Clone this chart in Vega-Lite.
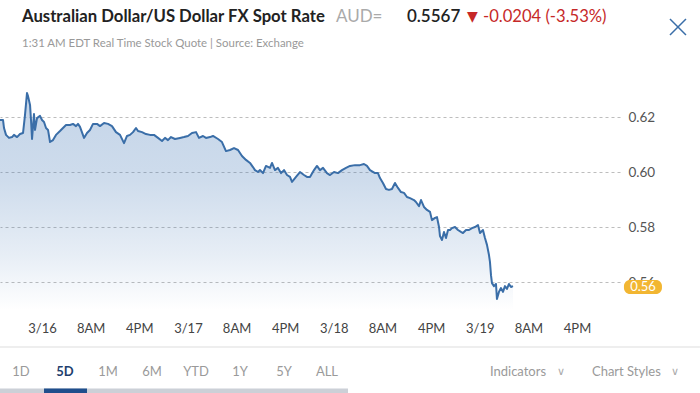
{
  "$schema": "https://vega.github.io/schema/vega-lite/v6.json",
  "autosize": "none",
  "width": 620,
  "height": 250,
  "padding": {"left": 0, "top": 60, "right": 80, "bottom": 83},
  "background": "#ffffff",
  "config": {"view": {"stroke": null}, "font": "Lato"},
  "datasets": {
    "rate": [
      {"h": -6.91, "v": 0.6189}, {"h": -6.41, "v": 0.6189}, {"h": -6.25, "v": 0.6160}, {"h": -5.92, "v": 0.6135}, {"h": -5.43, "v": 0.6124}, {"h": -4.93, "v": 0.6127}, {"h": -4.61, "v": 0.6135}, {"h": -4.11, "v": 0.6127}, {"h": -3.62, "v": 0.6138}, {"h": -3.12, "v": 0.6142}, {"h": -2.80, "v": 0.6207}, {"h": -2.47, "v": 0.6287}, {"h": -2.30, "v": 0.6276}, {"h": -1.97, "v": 0.6244}, {"h": -1.81, "v": 0.6189}, {"h": -1.64, "v": 0.6120}, {"h": -1.32, "v": 0.6211}, {"h": -1.15, "v": 0.6153}, {"h": -0.82, "v": 0.6196}, {"h": -0.33, "v": 0.6204}, {"h": 0, "v": 0.6189}, {"h": 0.33, "v": 0.6182}, {"h": 0.66, "v": 0.6160}, {"h": 0.99, "v": 0.6153}, {"h": 1.32, "v": 0.6109}, {"h": 1.81, "v": 0.6116}, {"h": 2.30, "v": 0.6135}, {"h": 2.96, "v": 0.6149}, {"h": 3.45, "v": 0.6160}, {"h": 3.95, "v": 0.6171}, {"h": 4.61, "v": 0.6171}, {"h": 5.10, "v": 0.6175}, {"h": 5.59, "v": 0.6167}, {"h": 5.92, "v": 0.6175}, {"h": 6.25, "v": 0.6164}, {"h": 6.91, "v": 0.6124}, {"h": 7.40, "v": 0.6142}, {"h": 7.89, "v": 0.6153}, {"h": 8.39, "v": 0.6175}, {"h": 9.05, "v": 0.6175}, {"h": 9.54, "v": 0.6167}, {"h": 10.20, "v": 0.6178}, {"h": 10.86, "v": 0.6175}, {"h": 11.51, "v": 0.6167}, {"h": 12.17, "v": 0.6145}, {"h": 12.83, "v": 0.6135}, {"h": 13.49, "v": 0.6105}, {"h": 13.98, "v": 0.6131}, {"h": 14.47, "v": 0.6135}, {"h": 14.97, "v": 0.6145}, {"h": 15.46, "v": 0.6160}, {"h": 15.79, "v": 0.6149}, {"h": 16.45, "v": 0.6145}, {"h": 17.10, "v": 0.6138}, {"h": 17.76, "v": 0.6135}, {"h": 18.42, "v": 0.6135}, {"h": 19.08, "v": 0.6124}, {"h": 19.74, "v": 0.6113}, {"h": 20.23, "v": 0.6124}, {"h": 20.72, "v": 0.6116}, {"h": 21.22, "v": 0.6127}, {"h": 21.87, "v": 0.6120}, {"h": 22.70, "v": 0.6124}, {"h": 23.35, "v": 0.6127}, {"h": 24.01, "v": 0.6131}, {"h": 24.67, "v": 0.6142}, {"h": 25.33, "v": 0.6145}, {"h": 25.82, "v": 0.6124}, {"h": 26.48, "v": 0.6131}, {"h": 26.97, "v": 0.6124}, {"h": 27.63, "v": 0.6127}, {"h": 28.12, "v": 0.6131}, {"h": 28.95, "v": 0.6120}, {"h": 29.60, "v": 0.6109}, {"h": 30.26, "v": 0.6076}, {"h": 30.92, "v": 0.6080}, {"h": 31.58, "v": 0.6087}, {"h": 32.24, "v": 0.6080}, {"h": 32.89, "v": 0.6058}, {"h": 33.55, "v": 0.6044}, {"h": 34.21, "v": 0.6033}, {"h": 34.70, "v": 0.6018}, {"h": 35.03, "v": 0.6007}, {"h": 35.53, "v": 0.6000}, {"h": 35.85, "v": 0.6007}, {"h": 36.35, "v": 0.5996}, {"h": 36.84, "v": 0.6022}, {"h": 37.50, "v": 0.6015}, {"h": 37.83, "v": 0.6033}, {"h": 38.32, "v": 0.6007}, {"h": 38.81, "v": 0.6015}, {"h": 39.31, "v": 0.5996}, {"h": 39.80, "v": 0.6007}, {"h": 40.30, "v": 0.5989}, {"h": 40.79, "v": 0.5982}, {"h": 41.12, "v": 0.5964}, {"h": 41.78, "v": 0.5982}, {"h": 42.43, "v": 0.6000}, {"h": 43.09, "v": 0.5989}, {"h": 43.58, "v": 0.5982}, {"h": 44.08, "v": 0.5982}, {"h": 44.74, "v": 0.6007}, {"h": 45.23, "v": 0.6022}, {"h": 45.72, "v": 0.6007}, {"h": 46.22, "v": 0.6015}, {"h": 46.87, "v": 0.5996}, {"h": 47.37, "v": 0.5989}, {"h": 48.03, "v": 0.6000}, {"h": 48.68, "v": 0.5996}, {"h": 49.34, "v": 0.6007}, {"h": 50.00, "v": 0.6015}, {"h": 50.66, "v": 0.6022}, {"h": 51.48, "v": 0.6025}, {"h": 52.30, "v": 0.6025}, {"h": 52.96, "v": 0.6029}, {"h": 53.45, "v": 0.6022}, {"h": 53.95, "v": 0.6007}, {"h": 54.77, "v": 0.5996}, {"h": 55.26, "v": 0.5996}, {"h": 55.59, "v": 0.5978}, {"h": 56.08, "v": 0.5960}, {"h": 56.58, "v": 0.5938}, {"h": 57.07, "v": 0.5935}, {"h": 57.56, "v": 0.5938}, {"h": 58.06, "v": 0.5960}, {"h": 58.55, "v": 0.5942}, {"h": 59.05, "v": 0.5927}, {"h": 59.54, "v": 0.5924}, {"h": 60.03, "v": 0.5909}, {"h": 60.53, "v": 0.5905}, {"h": 61.18, "v": 0.5898}, {"h": 61.51, "v": 0.5891}, {"h": 62.01, "v": 0.5876}, {"h": 62.34, "v": 0.5898}, {"h": 62.83, "v": 0.5873}, {"h": 63.32, "v": 0.5862}, {"h": 63.82, "v": 0.5855}, {"h": 64.14, "v": 0.5825}, {"h": 64.64, "v": 0.5833}, {"h": 64.97, "v": 0.5836}, {"h": 65.30, "v": 0.5800}, {"h": 65.46, "v": 0.5767}, {"h": 65.79, "v": 0.5753}, {"h": 66.12, "v": 0.5782}, {"h": 66.45, "v": 0.5760}, {"h": 66.78, "v": 0.5789}, {"h": 67.11, "v": 0.5789}, {"h": 67.43, "v": 0.5796}, {"h": 67.93, "v": 0.5800}, {"h": 68.42, "v": 0.5789}, {"h": 68.91, "v": 0.5782}, {"h": 69.24, "v": 0.5778}, {"h": 69.74, "v": 0.5789}, {"h": 70.23, "v": 0.5789}, {"h": 70.72, "v": 0.5796}, {"h": 71.22, "v": 0.5800}, {"h": 71.71, "v": 0.5807}, {"h": 72.04, "v": 0.5778}, {"h": 72.53, "v": 0.5789}, {"h": 72.86, "v": 0.5760}, {"h": 73.19, "v": 0.5735}, {"h": 73.52, "v": 0.5698}, {"h": 73.68, "v": 0.5673}, {"h": 73.85, "v": 0.5625}, {"h": 74.01, "v": 0.5596}, {"h": 74.34, "v": 0.5585}, {"h": 74.67, "v": 0.5593}, {"h": 74.83, "v": 0.5538}, {"h": 75.16, "v": 0.5564}, {"h": 75.49, "v": 0.5578}, {"h": 75.82, "v": 0.5564}, {"h": 76.15, "v": 0.5585}, {"h": 76.48, "v": 0.5575}, {"h": 76.81, "v": 0.5593}, {"h": 77.14, "v": 0.5582}, {"h": 77.47, "v": 0.5585}
    ],
    "one": [{}]
  },
  "layer": [
    {
      "data": {"name": "rate"},
      "mark": {
        "type": "area",
        "color": {
          "gradient": "linear", "x1": 0, "y1": 0, "x2": 0, "y2": 1,
          "stops": [
            {"offset": 0, "color": "rgba(60,115,180,0.30)"},
            {"offset": 0.4, "color": "rgba(60,115,180,0.25)"},
            {"offset": 0.75, "color": "rgba(60,115,180,0.12)"},
            {"offset": 1, "color": "rgba(60,115,180,0.0)"}
          ]
        }
      },
      "encoding": {
        "x": {
          "field": "h", "type": "quantitative",
          "scale": {"domain": [-6.91, 95.07], "nice": false, "zero": false},
          "axis": {
            "title": null, "orient": "bottom", "grid": false, "domain": false, "ticks": false,
            "values": [0, 8, 16, 24, 32, 40, 48, 56, 64, 72, 80, 88],
            "labelExpr": "datum.value % 24 == 0 ? '3/' + (16 + datum.value / 24) : (datum.value % 24 == 8 ? '8AM' : '4PM')",
            "labelPadding": 12, "labelFontSize": 13, "labelColor": "#444444", "labelFont": "Lato", "labelOverlap": false
          }
        },
        "y": {
          "field": "v", "type": "quantitative",
          "scale": {"domain": [0.54982, 0.64073], "nice": false, "zero": false},
          "axis": {
            "title": null, "orient": "right", "grid": true, "gridDash": [3, 3], "gridColor": "#bdbdbd", "gridWidth": 1,
            "domain": false, "ticks": false, "values": [0.56, 0.58, 0.6, 0.62], "format": ".2f",
            "labelPadding": 8, "labelFontSize": 13.5, "labelColor": "#555555", "labelFont": "Lato"
          }
        },
        "y2": {"datum": 0.54982}
      }
    },
    {
      "data": {"name": "rate"},
      "mark": {"type": "line", "color": "#3a6ea8", "strokeWidth": 2, "strokeJoin": "round"},
      "encoding": {
        "x": {"field": "h", "type": "quantitative"},
        "y": {"field": "v", "type": "quantitative"}
      }
    },
    {
      "data": {"name": "one"},
      "mark": {"type": "rect", "color": "#f2b632", "cornerRadius": 6},
      "encoding": {
        "x": {"datum": 95.72}, "x2": {"datum": 101.97},
        "y": {"datum": 0.56073}, "y2": {"datum": 0.55564}
      }
    },
    {
      "data": {"name": "one"},
      "mark": {"type": "text", "text": "0.56", "color": "#ffffff", "fontSize": 13, "font": "Lato", "align": "center", "baseline": "middle"},
      "encoding": {"x": {"datum": 98.85}, "y": {"datum": 0.55818}}
    },
    {
      "data": {"name": "one"},
      "mark": {"type": "text", "text": "Australian Dollar/US Dollar FX Spot Rate", "color": "#222222", "fontSize": 16.7, "fontWeight": "bold", "font": "Lato", "align": "left", "baseline": "middle"},
      "encoding": {"x": {"datum": -3.29}, "y": {"datum": 0.65636}}
    },
    {
      "data": {"name": "one"},
      "mark": {"type": "text", "text": "AUD=", "color": "#aaaaaa", "fontSize": 17, "font": "Lato", "align": "left", "baseline": "middle"},
      "encoding": {"x": {"datum": 48.35}, "y": {"datum": 0.65636}}
    },
    {
      "data": {"name": "one"},
      "mark": {"type": "text", "text": "0.5567", "color": "#222222", "fontSize": 17, "fontWeight": 600, "font": "Lato", "align": "left", "baseline": "middle"},
      "encoding": {"x": {"datum": 60.03}, "y": {"datum": 0.65636}}
    },
    {
      "data": {"name": "one"},
      "mark": {"type": "text", "text": "▼", "color": "#c62828", "fontSize": 14, "font": "DejaVu Sans", "align": "left", "baseline": "middle"},
      "encoding": {"x": {"datum": 69.9}, "y": {"datum": 0.65636}}
    },
    {
      "data": {"name": "one"},
      "mark": {"type": "text", "text": "-0.0204 (-3.53%)", "color": "#c62828", "fontSize": 16.6, "font": "Lato", "align": "left", "baseline": "middle"},
      "encoding": {"x": {"datum": 72.53}, "y": {"datum": 0.65636}}
    },
    {
      "data": {"name": "one"},
      "mark": {"type": "text", "text": "1:31 AM EDT Real Time Stock Quote | Source: Exchange", "color": "#999999", "fontSize": 11.45, "font": "Lato", "align": "left", "baseline": "middle"},
      "encoding": {"x": {"datum": -3.29}, "y": {"datum": 0.64655}}
    },
    {
      "data": {"name": "one"},
      "mark": {"type": "rule", "color": "#3a6ea8", "strokeWidth": 1.5},
      "encoding": {"x": {"datum": 103.29}, "x2": {"datum": 105.92}, "y": {"datum": 0.65564}, "y2": {"datum": 0.64982}}
    },
    {
      "data": {"name": "one"},
      "mark": {"type": "rule", "color": "#3a6ea8", "strokeWidth": 1.5},
      "encoding": {"x": {"datum": 103.29}, "x2": {"datum": 105.92}, "y": {"datum": 0.64982}, "y2": {"datum": 0.65564}}
    },
    {
      "data": {"name": "one"},
      "mark": {"type": "rule", "color": "#dddddd", "strokeWidth": 1},
      "encoding": {"x": {"datum": -6.91}, "x2": {"datum": 108.22}, "y": {"datum": 0.53636}}
    },
    {
      "data": {"name": "one"},
      "mark": {"type": "rule", "color": "#ccd0d7", "strokeWidth": 5},
      "encoding": {"x": {"datum": -6.91}, "x2": {"datum": 50.33}, "y": {"datum": 0.52036}}
    },
    {
      "data": {"name": "one"},
      "mark": {"type": "rule", "color": "#1f4e8c", "strokeWidth": 5},
      "encoding": {"x": {"datum": 0.33}, "x2": {"datum": 7.40}, "y": {"datum": 0.52036}}
    },
    {
      "data": {"name": "one"},
      "mark": {"type": "text", "text": "1D", "color": "#9a9a9a", "fontSize": 13, "font": "Lato", "align": "center", "baseline": "middle"},
      "encoding": {"x": {"datum": -3.45}, "y": {"datum": 0.52727}}
    },
    {
      "data": {"name": "one"},
      "mark": {"type": "text", "text": "5D", "color": "#1f3f6e", "fontSize": 13, "fontWeight": "bold", "font": "Lato", "align": "center", "baseline": "middle"},
      "encoding": {"x": {"datum": 3.78}, "y": {"datum": 0.52727}}
    },
    {
      "data": {"name": "one"},
      "mark": {"type": "text", "text": "1M", "color": "#9a9a9a", "fontSize": 13, "font": "Lato", "align": "center", "baseline": "middle"},
      "encoding": {"x": {"datum": 10.86}, "y": {"datum": 0.52727}}
    },
    {
      "data": {"name": "one"},
      "mark": {"type": "text", "text": "6M", "color": "#9a9a9a", "fontSize": 13, "font": "Lato", "align": "center", "baseline": "middle"},
      "encoding": {"x": {"datum": 18.09}, "y": {"datum": 0.52727}}
    },
    {
      "data": {"name": "one"},
      "mark": {"type": "text", "text": "YTD", "color": "#9a9a9a", "fontSize": 13, "font": "Lato", "align": "center", "baseline": "middle"},
      "encoding": {"x": {"datum": 25.33}, "y": {"datum": 0.52727}}
    },
    {
      "data": {"name": "one"},
      "mark": {"type": "text", "text": "1Y", "color": "#9a9a9a", "fontSize": 13, "font": "Lato", "align": "center", "baseline": "middle"},
      "encoding": {"x": {"datum": 32.57}, "y": {"datum": 0.52727}}
    },
    {
      "data": {"name": "one"},
      "mark": {"type": "text", "text": "5Y", "color": "#9a9a9a", "fontSize": 13, "font": "Lato", "align": "center", "baseline": "middle"},
      "encoding": {"x": {"datum": 39.8}, "y": {"datum": 0.52727}}
    },
    {
      "data": {"name": "one"},
      "mark": {"type": "text", "text": "ALL", "color": "#9a9a9a", "fontSize": 13, "font": "Lato", "align": "center", "baseline": "middle"},
      "encoding": {"x": {"datum": 46.87}, "y": {"datum": 0.52727}}
    },
    {
      "data": {"name": "one"},
      "mark": {"type": "text", "text": "Indicators", "color": "#9a9a9a", "fontSize": 13, "font": "Lato", "align": "left", "baseline": "middle"},
      "encoding": {"x": {"datum": 73.68}, "y": {"datum": 0.52727}}
    },
    {
      "data": {"name": "one"},
      "mark": {"type": "text", "text": "∨", "color": "#aaaaaa", "fontSize": 11, "font": "DejaVu Sans", "align": "center", "baseline": "middle"},
      "encoding": {"x": {"datum": 85.36}, "y": {"datum": 0.52727}}
    },
    {
      "data": {"name": "one"},
      "mark": {"type": "text", "text": "Chart Styles", "color": "#9a9a9a", "fontSize": 13, "font": "Lato", "align": "left", "baseline": "middle"},
      "encoding": {"x": {"datum": 90.46}, "y": {"datum": 0.52727}}
    },
    {
      "data": {"name": "one"},
      "mark": {"type": "text", "text": "∨", "color": "#aaaaaa", "fontSize": 11, "font": "DejaVu Sans", "align": "center", "baseline": "middle"},
      "encoding": {"x": {"datum": 104.11}, "y": {"datum": 0.52727}}
    }
  ]
}
